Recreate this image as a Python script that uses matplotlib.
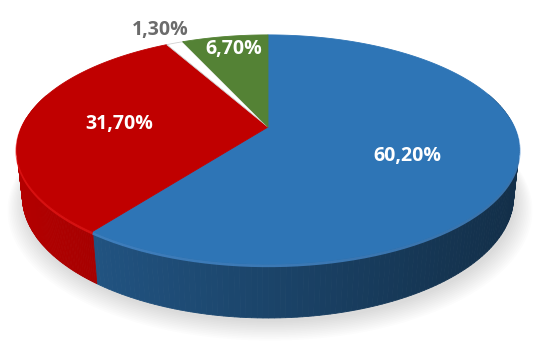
import numpy as np
import matplotlib.pyplot as plt
from matplotlib.patches import Polygon
from matplotlib.colors import to_rgb

# pie data, clockwise from 12 o'clock
shares = [60.2, 31.7, 1.3, 6.7]
labels = ['60,20%', '31,70%', '1,30%', '6,70%']
top_colors = ['#2E75B6', '#C00000', '#FFFFFF', '#548235']
side_colors = ['#1F4E79', '#9C0000', '#D9D9D9', '#3F6128']
rim_colors = ['#4A90D6', '#E81818', '#FFFFFF', '#6FA34A']
label_colors = ['white', 'white', '#6B6B6B', 'white']
label_pos = [(407, 156), (119, 124), (160, 30), (234, 49)]

# view geometry (pixels)
W, H = 535, 361
cx, cy = 268, 127
tilt = np.radians(26.6)
dist = 4.55
thick = 0.215
c, s = np.cos(tilt), np.sin(tilt)


def project(x, y, z):
    depth = y * c - z * s + dist
    return x / depth, (y * s + z * c) / depth


t = np.linspace(0, 2 * np.pi, 2000)
sx_all, _ = project(np.cos(t), np.sin(t), 0 * t)
k = 251 / sx_all.max()


def to_px(x, y, z):
    sx, sy = project(x, y, z)
    return cx + k * sx, cy - k * sy


fig = plt.figure(figsize=(W / 100, H / 100), dpi=100)
ax = fig.add_axes([0, 0, 1, 1])
ax.set_xlim(0, W)
ax.set_ylim(H, 0)
ax.axis('off')

# soft shadow under the pie
ring = np.linspace(0, 2 * np.pi, 400)
for i in range(12):
    grow = 1.0 + 0.006 * i
    bx, by = to_px(grow * np.sin(ring), grow * np.cos(ring), -thick)
    ax.add_patch(Polygon(np.column_stack([bx + 2, by + 4 + 0.6 * i]),
                         closed=True, facecolor='black', edgecolor='none',
                         alpha=0.012, zorder=1))

fracs = np.cumsum([0] + shares) / sum(shares)

# outer walls
for i in range(len(shares)):
    a = np.linspace(fracs[i], fracs[i + 1], 200) * 2 * np.pi
    wx, wy = np.sin(a), np.cos(a)
    tx, ty = to_px(wx, wy, 0)
    bx, by = to_px(wx, wy, -thick)
    base = np.array(to_rgb(side_colors[i]))
    for j in range(len(a) - 1):
        if wy[j] > 0.3 and wy[j + 1] > 0.3:
            continue
        shade = 1.15 - 0.55 * ((tx[j] - 17) / 502)
        col = np.clip(base * shade, 0, 1)
        quad = [(tx[j], ty[j]), (tx[j + 1], ty[j + 1]),
                (bx[j + 1], by[j + 1]), (bx[j], by[j])]
        ax.add_patch(Polygon(quad, closed=True, facecolor=col,
                             edgecolor=col, linewidth=0.6, zorder=2))
    front = wy < 0.1
    ax.plot(np.where(front, tx, np.nan), np.where(front, ty + 1.5, np.nan),
            color=rim_colors[i], linewidth=2.2, alpha=0.7, zorder=3,
            solid_capstyle='butt')

# top faces
ox, oy = to_px(0, 0, 0)
for i in range(len(shares)):
    a = np.linspace(fracs[i], fracs[i + 1], 200) * 2 * np.pi
    tx, ty = to_px(np.sin(a), np.cos(a), 0)
    pts = np.column_stack([np.r_[ox, tx], np.r_[oy, ty]])
    edge = '#D0D0D0' if top_colors[i] == '#FFFFFF' else top_colors[i]
    ax.add_patch(Polygon(pts, closed=True, facecolor=top_colors[i],
                         edgecolor=edge, linewidth=0.6, zorder=4))

for lab, (lx, ly), col in zip(labels, label_pos, label_colors):
    ax.text(lx, ly, lab, color=col, fontsize=14, fontweight='bold',
            family='Open Sans', ha='center', va='center', zorder=6)

fig.savefig('out.png', dpi=100)
